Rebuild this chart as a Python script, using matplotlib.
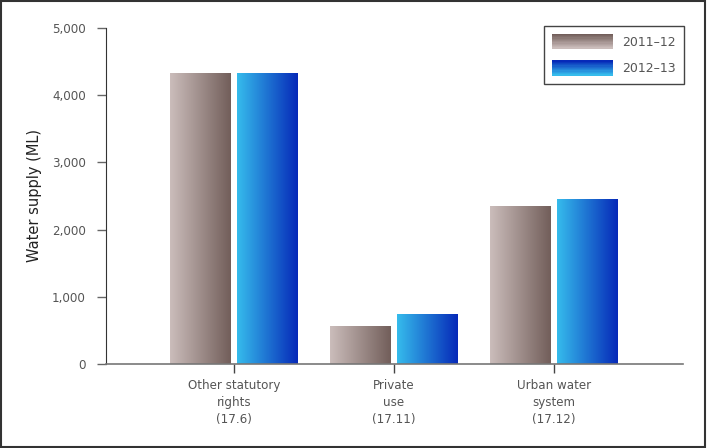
import matplotlib
matplotlib.use('Agg')
import matplotlib.pyplot as plt
import matplotlib.patches as mpatches
from matplotlib.colors import LinearSegmentedColormap
from matplotlib.legend_handler import HandlerBase
import numpy as np

categories = ['Other statutory\nrights\n(17.6)', 'Private\nuse\n(17.11)',
              'Urban water\nsystem\n(17.12)']
series_names = ['2011\u201312', '2012\u201313']
values_2011 = [4330, 565, 2350]
values_2012 = [4330, 745, 2455]
y_ticks = [0, 1000, 2000, 3000, 4000, 5000]

BROWN = LinearSegmentedColormap.from_list('brown', ['#cbbdbb', '#725e5a'])
BLUE = LinearSegmentedColormap.from_list('blue', ['#36bcec', '#0629b8'])
TEXT = '#555555'

plt.rcParams['font.family'] = ['DejaVu Sans']

fig = plt.figure(figsize=(7.07, 4.48), dpi=100)
ax = fig.add_axes([106 / 707, 84 / 448, 577 / 707, 336 / 448])

x = np.arange(len(categories))
width = 0.38
offset = 0.208

grad = np.linspace(0, 1, 256).reshape(1, -1)


def gradient_bars(bars, cmap):
    for b in bars:
        b.set_facecolor('none')
        b.set_edgecolor('none')
        x0, y0 = b.get_x(), b.get_y()
        w, h = b.get_width(), b.get_height()
        im = ax.imshow(grad, cmap=cmap, aspect='auto',
                       extent=(x0, x0 + w, y0, y0 + h), zorder=2)
        im.set_clip_path(b)


b1 = ax.bar(x - offset, values_2011, width, label=series_names[0])
b2 = ax.bar(x + offset, values_2012, width, label=series_names[1])
gradient_bars(b1, BROWN)
gradient_bars(b2, BLUE)

ax.set_xlim(-0.8, 2.806)
ax.set_ylim(0, 5000)
ax.set_yticks(y_ticks)
ax.set_yticklabels([f'{v:,}' for v in y_ticks])
ax.set_xticks(x)
ax.set_xticklabels(categories, linespacing=1.4)

for s in ['top', 'right']:
    ax.spines[s].set_visible(False)
ax.spines['left'].set_color('#333333')
ax.spines['bottom'].set_color('#777777')
ax.spines['bottom'].set_linewidth(1.2)
ax.tick_params(axis='y', length=6.5, width=1, color='#666666',
               labelcolor=TEXT, labelsize=8.6, pad=8)
ax.tick_params(axis='x', length=6.5, width=1, color='#444444',
               labelcolor=TEXT, labelsize=8.6, pad=4)
ax.set_ylabel('Water supply (ML)', fontsize=10.5, color='#222222',
              labelpad=7)


class GradHandler(HandlerBase):
    def __init__(self, cmap):
        super().__init__()
        self.cmap = cmap

    def create_artists(self, legend, orig_handle, xdescent, ydescent,
                       width, height, fontsize, trans):
        n = 12
        arts = []
        for i in range(n):
            c = self.cmap(1 - i / (n - 1))
            r = mpatches.Rectangle((-xdescent, -ydescent + height * (n - 1 - i) / n),
                                   width, height / n + 0.3, facecolor=c,
                                   edgecolor='none', transform=trans)
            arts.append(r)
        return arts


h1 = mpatches.Patch(label=series_names[0])
h2 = mpatches.Patch(label=series_names[1])
leg = ax.legend(handles=[h1, h2], loc='upper right',
                bbox_to_anchor=(1.002, 1.006),
                handler_map={h1: GradHandler(BROWN), h2: GradHandler(BLUE)},
                handlelength=4.9, handleheight=1.45, fontsize=9,
                labelcolor=TEXT, fancybox=False, edgecolor='#444444',
                framealpha=1, borderpad=0.65, labelspacing=0.95,
                handletextpad=0.75, borderaxespad=0)
leg.get_frame().set_linewidth(1.0)

fig.patches.append(mpatches.Rectangle((0.001, 0.002), 0.996, 0.995,
                                      transform=fig.transFigure,
                                      fill=False, edgecolor='#333333',
                                      linewidth=1.5))

fig.savefig('out.png', dpi=100)
